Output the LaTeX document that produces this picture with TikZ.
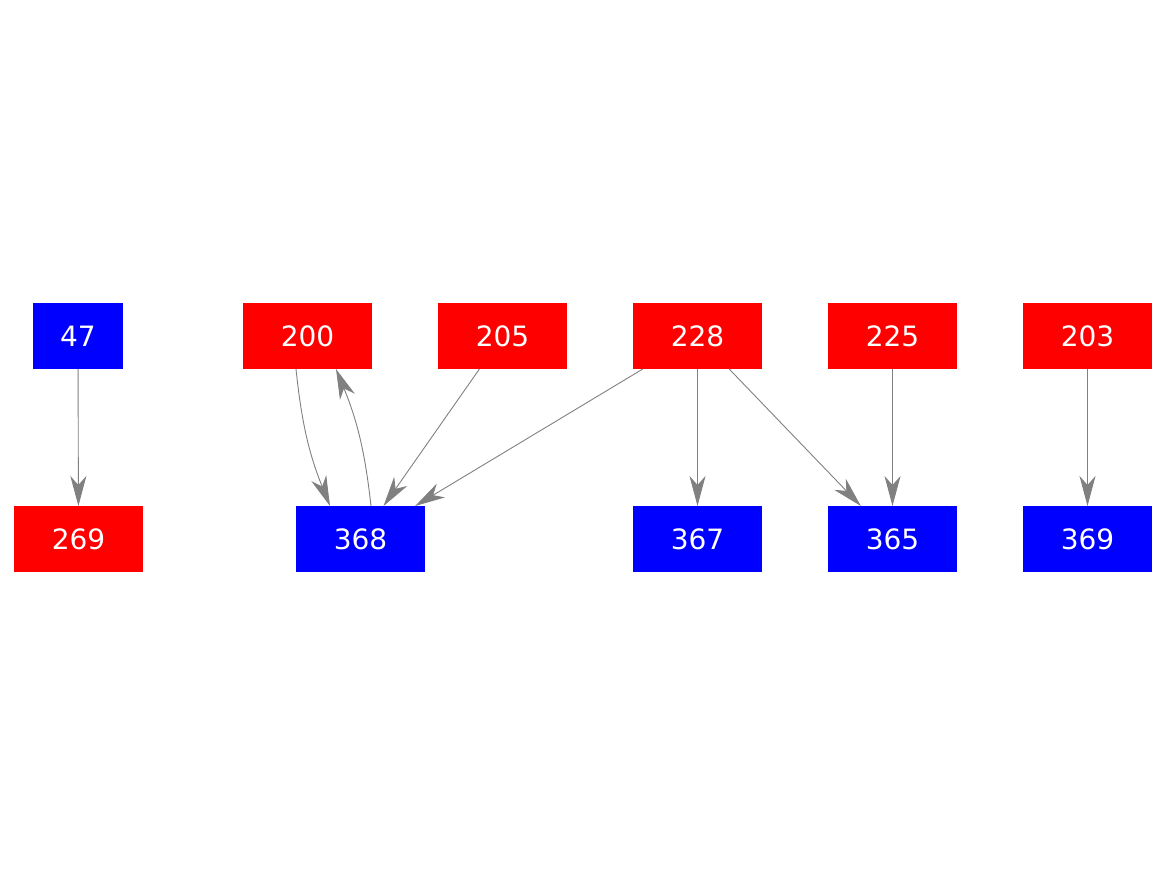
\documentclass[tikz,border=0pt]{standalone}
\usepackage{fontspec}
\setmainfont{DejaVu Sans}
\usetikzlibrary{arrows.meta}
\definecolor{nred}{RGB}{255,0,0}
\definecolor{nblue}{RGB}{0,0,255}
\definecolor{egray}{RGB}{128,128,128}
\begin{document}
\begin{tikzpicture}[x=1pt,y=-1pt,
  nbox/.style={rectangle,inner sep=0pt,outer sep=0pt,minimum width=129pt,minimum height=66pt,text=white,font=\fontsize{28}{28}\selectfont},
  rbox/.style={nbox,fill=nred},
  bbox/.style={nbox,fill=nblue},
  edge/.style={draw=egray,line width=0.9pt,-{Stealth[length=30pt,width=16pt,inset=9pt]}}]
\useasboundingbox (0,0) rectangle (1167,875);
\node[bbox,minimum width=90pt] (n47) at (78,336) {47};
\node[rbox] (n269) at (78.5,539) {269};
\node[rbox] (n200) at (307.5,336) {200};
\node[rbox] (n205) at (502.5,336) {205};
\node[rbox] (n228) at (697.5,336) {228};
\node[rbox] (n225) at (892.5,336) {225};
\node[rbox] (n203) at (1087.5,336) {203};
\node[bbox] (n368) at (360.5,539) {368};
\node[bbox] (n367) at (697.5,539) {367};
\node[bbox] (n365) at (892.5,539) {365};
\node[bbox] (n369) at (1087.5,539) {369};
\draw[edge] (n47) -- (n269);
\draw[edge] ([xshift=-11.5pt]n200.south) to[bend right=8] ([xshift=-30.5pt]n368.north);
\draw[edge] ([xshift=10.5pt]n368.north) to[bend right=8] ([xshift=28.5pt]n200.south);
\draw[edge] (n205) -- (n368);
\draw[edge] (n228) -- (n368);
\draw[edge] (n228) -- (n367);
\draw[edge] (n228) -- (n365);
\draw[edge] (n225) -- (n365);
\draw[edge] (n203) -- (n369);
\end{tikzpicture}
\end{document}
